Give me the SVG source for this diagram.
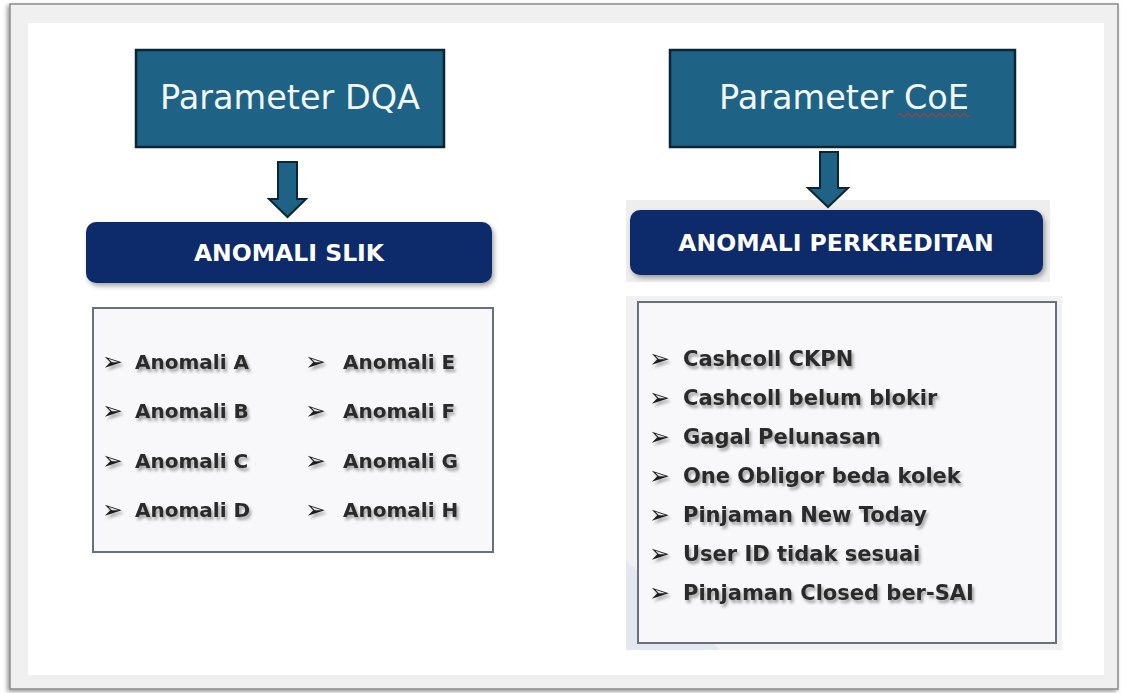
<svg xmlns="http://www.w3.org/2000/svg" width="1138" height="693" viewBox="0 0 1138 693">
<defs>
<filter id="sh" x="-10%" y="-10%" width="125%" height="130%"><feDropShadow dx="2" dy="3" stdDeviation="2.5" flood-color="#000" flood-opacity="0.35"/></filter>
<filter id="tsh" x="-5%" y="-30%" width="115%" height="180%"><feDropShadow dx="2" dy="3" stdDeviation="1.5" flood-color="#000" flood-opacity="0.35"/></filter>
<filter id="fsh" x="-5%" y="-5%" width="110%" height="110%"><feDropShadow dx="-2" dy="2" stdDeviation="2" flood-color="#000" flood-opacity="0.4"/></filter>
</defs>
<style>
.param{fill:#1e6385;stroke:#0c2533;stroke-width:2.5}
.ptxt{font-family:"DejaVu Sans","Liberation Sans",sans-serif;font-size:33.5px;fill:#f2f6f8;text-anchor:middle}
.ban{fill:#0d2b6b}
.btxt{font-family:"DejaVu Sans","Liberation Sans",sans-serif;font-weight:700;font-size:23.5px;fill:#ffffff;text-anchor:middle}
.list{fill:#f8f8fa;stroke:#6a6f7c;stroke-width:2}
.itm{font-family:"DejaVu Sans","Liberation Sans",sans-serif;font-weight:700;font-size:20px;fill:#2a2a2a}
.itm2{font-size:21px}
.bul{font-size:25px;fill:#1a1a1a}
.arr{fill:#1e6385;stroke:#0c2533;stroke-width:2;stroke-linejoin:miter}
</style>
<rect width="1138" height="693" fill="#ffffff"/>
<g id="frame">
<rect x="10" y="4" width="1108" height="685" fill="#f0f0f0" stroke="#8a8a8a" stroke-width="1.5" filter="url(#fsh)"/>
<rect x="28" y="23" width="1076" height="652" fill="#ffffff"/>
</g>
<g id="param-dqa">
<rect class="param" x="136" y="50" width="308" height="97"/>
<text class="ptxt" x="290" y="109">Parameter DQA</text>
</g>
<g id="param-coe">
<rect class="param" x="670" y="50" width="345" height="97"/>
<text class="ptxt" x="844" y="109">Parameter CoE</text>
<path d="M898 115 q2 -3 4 0 t4 0 t4 0 t4 0 t4 0 t4 0 t4 0 t4 0 t4 0 t4 0 t4 0 t4 0 t4 0 t4 0 t4 0 t4 0 t4 0 t4 0" fill="none" stroke="#c0392b" stroke-width="1.2"/>
</g>
<g id="anomali-slik">
<rect class="ban" x="86" y="222" width="406" height="61" rx="10" filter="url(#sh)"/>
<text class="btxt" x="289" y="261">ANOMALI SLIK</text>
</g>
<g id="anomali-perkreditan">
<rect x="626" y="200" width="424" height="82" fill="#eeeeee"/>
<rect class="ban" x="630" y="210" width="413" height="65" rx="10" filter="url(#sh)"/>
<text class="btxt" x="836" y="251">ANOMALI PERKREDITAN</text>
</g>
<g id="list-slik">
<rect class="list" x="93" y="308" width="400" height="244"/>
<g class="itm" filter="url(#tsh)">
<text class="bul" x="102" y="370">➢</text><text x="135" y="369">Anomali A</text>
<text class="bul" x="102" y="419">➢</text><text x="135" y="418">Anomali B</text>
<text class="bul" x="102" y="469">➢</text><text x="135" y="468">Anomali C</text>
<text class="bul" x="102" y="518">➢</text><text x="135" y="517">Anomali D</text>
<text class="bul" x="305" y="370">➢</text><text x="343" y="369">Anomali E</text>
<text class="bul" x="305" y="419">➢</text><text x="343" y="418">Anomali F</text>
<text class="bul" x="305" y="469">➢</text><text x="343" y="468">Anomali G</text>
<text class="bul" x="305" y="518">➢</text><text x="343" y="517">Anomali H</text>
</g>
</g>
<g id="list-perkreditan">
<rect x="626" y="296" width="436" height="354" fill="#f1f1f3"/>
<path d="M626 560 L720 650 H626 Z" fill="#e3e7ef"/>
<rect class="list" x="638" y="302" width="418" height="341"/>
<g class="itm itm2" filter="url(#tsh)">
<text class="bul" x="649" y="367">➢</text><text x="683" y="366">Cashcoll CKPN</text>
<text class="bul" x="649" y="406">➢</text><text x="683" y="405">Cashcoll belum blokir</text>
<text class="bul" x="649" y="445">➢</text><text x="683" y="444">Gagal Pelunasan</text>
<text class="bul" x="649" y="484">➢</text><text x="683" y="483">One Obligor beda kolek</text>
<text class="bul" x="649" y="523">➢</text><text x="683" y="522">Pinjaman New Today</text>
<text class="bul" x="649" y="562">➢</text><text x="683" y="561">User ID tidak sesuai</text>
<text class="bul" x="649" y="601">➢</text><text x="683" y="600">Pinjaman Closed ber-SAI</text>
</g>
</g>
<g id="connectors">
<path class="arr" d="M278 162 H297 V199 H306 L287.5 217 L269 199 H278 Z"/>
<path class="arr" d="M820 152 H838 V188 H848 L828 207 L808 188 H820 Z"/>
</g>
</svg>
